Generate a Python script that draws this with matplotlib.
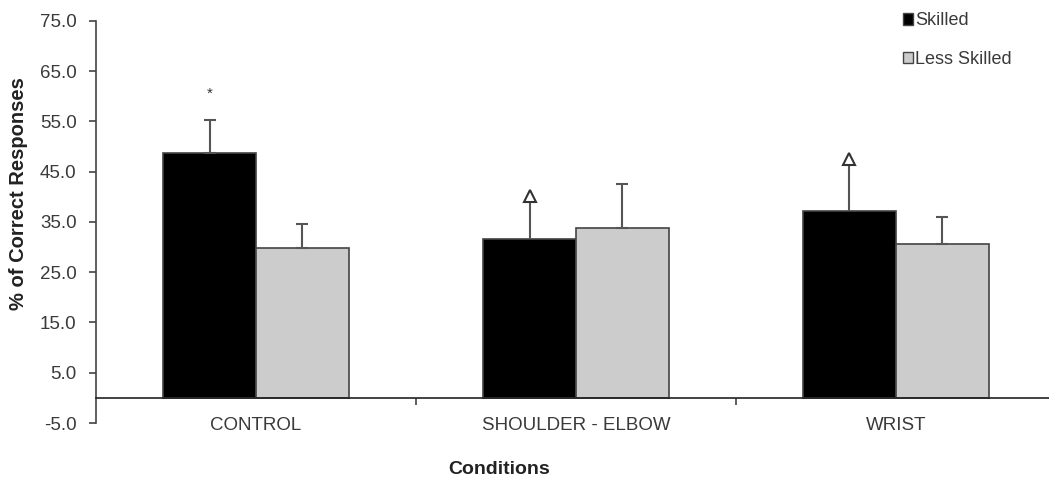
import numpy as np
import matplotlib.pyplot as plt
from matplotlib.patches import Patch

plt.rcParams['font.family'] = ['Liberation Sans', 'DejaVu Sans']

# data
conditions = ['CONTROL', 'SHOULDER - ELBOW', 'WRIST']
skilled = [48.8, 31.7, 37.2]
skilled_err = [6.4, 7.1, 9.0]
less_skilled = [29.9, 33.7, 30.7]
less_skilled_err = [4.6, 8.9, 5.2]
star_cond = [0]          # '*' over skilled bar
star_y = [60.5]
tri_cond = [1, 2]        # open triangles on top of skilled error bars
y_ticks = [-5, 5, 15, 25, 35, 45, 55, 65, 75]

x = np.arange(len(conditions))
width = 0.29

fig = plt.figure(figsize=(10.49, 4.84), dpi=100)
ax = fig.add_axes([0.0915, 0.126, 0.915, 0.831])

ax.bar(x - width / 2, skilled, width, color='black', edgecolor='#444444', linewidth=1.2, zorder=2)
ax.bar(x + width / 2, less_skilled, width, color='#cccccc', edgecolor='#444444', linewidth=1.2, zorder=2)

# error bars (only upper side); skilled bars with triangles get no cap
caps = [0 if i in tri_cond else 4 for i in x]
for i in x:
    ax.errorbar(x[i] - width / 2, skilled[i], yerr=[[0], [skilled_err[i]]], fmt='none',
                ecolor='#555555', elinewidth=1.5, capsize=caps[i], capthick=1.5, zorder=3)
ax.errorbar(x + width / 2, less_skilled, yerr=[np.zeros(3), less_skilled_err], fmt='none',
            ecolor='#555555', elinewidth=1.5, capsize=4, capthick=1.5, zorder=3)

tops = [skilled[i] + skilled_err[i] for i in tri_cond]
ax.plot(x[tri_cond] - width / 2, np.array(tops) + 1.4, linestyle='none', marker='^', markersize=9,
        markerfacecolor='white', markeredgecolor='#333333', markeredgewidth=1.5, zorder=4)
for c, yy in zip(star_cond, star_y):
    ax.text(x[c] - width / 2, yy, '*', ha='center', va='center', fontsize=11, color='#333333')

ax.set_xlim(-0.5, 2.5)
ax.set_ylim(-5, 75)
ax.set_yticks(y_ticks)
ax.set_yticklabels([f'{v:.1f}' for v in y_ticks], fontsize=13.5, color='#3a3a3a')

ax.spines['top'].set_visible(False)
ax.spines['right'].set_visible(False)
ax.spines['bottom'].set_position(('data', 0))
ax.spines['left'].set_color('#444444')
ax.spines['bottom'].set_color('#222222')
ax.spines['left'].set_linewidth(1.2)
ax.spines['bottom'].set_linewidth(1.2)

ax.set_xticks(x)
ax.set_xticklabels(conditions, fontsize=13.5, color='#3a3a3a')
ax.tick_params(axis='x', which='major', length=0, pad=14)
ax.set_xticks([0.5, 1.5], minor=True)
ax.tick_params(axis='x', which='minor', length=5, direction='out', color='#444444', width=1.2)
ax.tick_params(axis='y', length=5, direction='out', color='#444444', width=1.2, pad=9)

ax.set_ylabel('% of Correct Responses', fontsize=14.5, fontweight='bold', color='#222222')
ax.yaxis.set_label_coords(-0.071, 0.57)
fig.text(0.476, 0.029, 'Conditions', ha='center', va='center', fontsize=14, fontweight='bold', color='#222222')

handles = [Patch(facecolor='black', edgecolor='#444444'),
           Patch(facecolor='#cccccc', edgecolor='#444444')]
fig.legend(handles, ['Skilled', 'Less Skilled'], loc='upper left', bbox_to_anchor=(0.845, 1.008),
           frameon=False, fontsize=13, handlelength=0.6, handleheight=0.6, handletextpad=0.1,
           labelspacing=1.2, labelcolor='#3a3a3a')

fig.savefig('out.png', dpi=100)
